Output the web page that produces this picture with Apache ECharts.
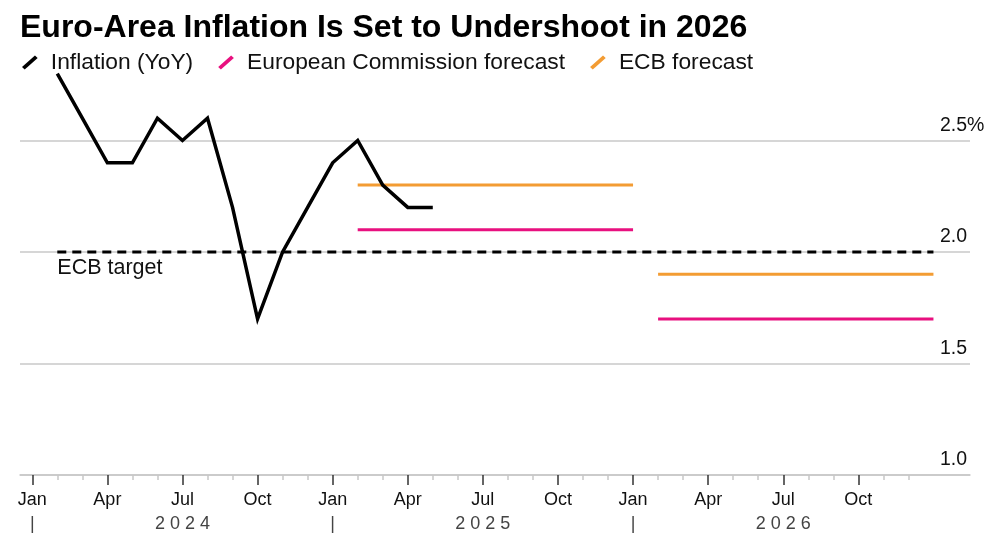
<!DOCTYPE html>
<html>
<head>
<meta charset="utf-8">
<title>Euro-Area Inflation</title>
<script src="https://cdn.jsdelivr.net/npm/echarts@6/dist/echarts.min.js"></script>
<style>
  html, body { margin: 0; padding: 0; background: #fff; }
  #chart { width: 1000px; height: 545px; }
</style>
</head>
<body>
<div id="chart"></div>
<script>
// monthly HICP readings (YoY %), each one is plotted at the end of its month
var inflationMonths = ['2024-01', '2024-02', '2024-03', '2024-04', '2024-05', '2024-06',
  '2024-07', '2024-08', '2024-09', '2024-10', '2024-11', '2024-12',
  '2025-01', '2025-02', '2025-03', '2025-04'];
var inflationValues = [2.8, 2.6, 2.4, 2.4, 2.6, 2.5, 2.6, 2.2, 1.7, 2.0, 2.2, 2.4, 2.5, 2.3, 2.2, 2.2];

// annual average forecasts
var forecastYears = [2025, 2026];
var ecForecast = [2.1, 1.7];
var ecbForecast = [2.3, 1.9];

var ecbTarget = 2.0;
var ecbTargetFrom = '2024-01';
var ecbTargetTo = '2026-12';

var yearLabels = ['2024', '2025', '2026'];
var quarterNames = ['Jan', 'Apr', 'Jul', 'Oct'];

var FONT = '"Liberation Sans", Arial, Helvetica, sans-serif';
var BASE_YEAR = 2024;

// month index on the x axis, 0 = start of Jan 2024
function monthStart(str) {
  var p = str.split('-');
  return (parseInt(p[0], 10) - BASE_YEAR) * 12 + parseInt(p[1], 10) - 1;
}
function monthEnd(str) {
  return monthStart(str) + 1;
}

var inflationData = inflationMonths.map(function (m, i) {
  return [monthEnd(m), inflationValues[i]];
});

function forecastSeries(name, values, color) {
  return forecastYears.map(function (y, i) {
    return {
      name: name,
      type: 'line',
      symbol: 'none',
      silent: true,
      itemStyle: {color: color},
      lineStyle: {color: color, width: 3, cap: 'butt'},
      data: [[monthEnd(y + '-01'), values[i]], [monthEnd(y + '-12'), values[i]]],
      z: 2
    };
  });
}

var majorTicks = [], minorTicks = [], yearTicks = [];
for (var m = 0; m < yearLabels.length * 12; m++) {
  if (m % 3 == 0) majorTicks.push(m); else minorTicks.push(m);
  if (m % 6 == 0) yearTicks.push(m);
}

var xMin = -0.49, xMax = 37.46;

// short slash, like the marks in the original legend
var legendIcon = 'path://M0,11 L12.4,0 L15,2.4 L2.6,13.4 Z';

var series = [
  {
    name: 'ECB target',
    type: 'line',
    symbol: 'circle',
    symbolSize: 0.1,
    showSymbol: true,
    silent: true,
    itemStyle: {color: '#000'},
    lineStyle: {color: '#000', width: 3, type: [9, 6]},
    data: [
      {
        value: [monthEnd(ecbTargetFrom), ecbTarget],
        label: {
          show: true,
          formatter: 'ECB target',
          position: 'bottom',
          align: 'left',
          distance: 5,
          color: '#111',
          fontSize: 21.5,
          fontFamily: FONT
        }
      },
      [monthEnd(ecbTargetTo), ecbTarget]
    ],
    z: 1
  },
  {
    name: 'Inflation (YoY)',
    type: 'line',
    symbol: 'none',
    silent: true,
    itemStyle: {color: '#000'},
    lineStyle: {color: '#000', width: 3.5, join: 'miter', cap: 'butt'},
    data: inflationData,
    z: 3
  }
].concat(forecastSeries('European Commission forecast', ecForecast, '#e8107f'))
 .concat(forecastSeries('ECB forecast', ecbForecast, '#f39c33'));

var myChart = echarts.init(document.getElementById('chart'));

var option = {
  animation: false,
  backgroundColor: '#fff',
  textStyle: {fontFamily: FONT},
  title: {
    text: 'Euro-Area Inflation Is Set to Undershoot in 2026',
    left: 15,
    top: 7,
    textStyle: {color: '#000', fontSize: 32, fontWeight: 'bold', fontFamily: FONT}
  },
  legend: {
    left: 17,
    top: 46,
    icon: legendIcon,
    itemWidth: 16,
    itemHeight: 14,
    itemGap: 25,
    selectedMode: false,
    data: ['Inflation (YoY)', 'European Commission forecast', 'ECB forecast'],
    textStyle: {color: '#111', fontSize: 22.8, fontFamily: FONT, padding: [0, 0, 0, 8]}
  },
  grid: {left: 20, right: 30, top: 29, bottom: 70},
  xAxis: [
    {
      type: 'value',
      position: 'bottom',
      min: xMin,
      max: xMax,
      axisLine: {show: true, lineStyle: {color: '#c8c8c8', width: 1.5}},
      axisTick: {show: true, customValues: majorTicks, length: 10, lineStyle: {color: '#333', width: 1.5}},
      axisLabel: {
        customValues: majorTicks,
        margin: 16,
        color: '#111',
        fontSize: 18,
        fontFamily: FONT,
        formatter: function (v) { return quarterNames[(Math.round(v) % 12) / 3]; }
      },
      splitLine: {show: false}
    },
    {
      type: 'value',
      position: 'bottom',
      offset: 0,
      min: xMin,
      max: xMax,
      axisLine: {show: false},
      axisTick: {show: true, customValues: minorTicks, length: 5, lineStyle: {color: '#c8c8c8', width: 1.5}},
      axisLabel: {show: false},
      splitLine: {show: false}
    },
    {
      type: 'value',
      position: 'bottom',
      offset: 0,
      min: xMin,
      max: xMax,
      axisLine: {show: false},
      axisTick: {show: false},
      axisLabel: {
        customValues: yearTicks,
        margin: 40,
        color: '#444',
        fontSize: 18,
        fontFamily: FONT,
        formatter: function (v) {
          var m = Math.round(v);
          if (m % 12 == 0) return '|';
          return yearLabels[Math.floor(m / 12)].split('').join(' ');
        }
      },
      splitLine: {show: false}
    }
  ],
  yAxis: {
    type: 'value',
    position: 'right',
    min: 1,
    max: 3,
    interval: 0.5,
    axisLine: {show: false},
    axisTick: {show: false},
    splitLine: {show: true, showMaxLine: false, lineStyle: {color: '#c8c8c8', width: 1.5}},
    axisLabel: {
      inside: true,
      margin: 30,
      align: 'left',
      verticalAlign: 'bottom',
      lineHeight: 30,
      showMaxLabel: false,
      color: '#111',
      fontSize: 19.5,
      fontFamily: FONT,
      formatter: function (v) {
        return v == 2.5 ? v.toFixed(1) + '%' : v.toFixed(1);
      }
    }
  },
  series: series
};

if (option && typeof option === 'object') {
  myChart.setOption(option, true);
}
</script>
</body>
</html>
